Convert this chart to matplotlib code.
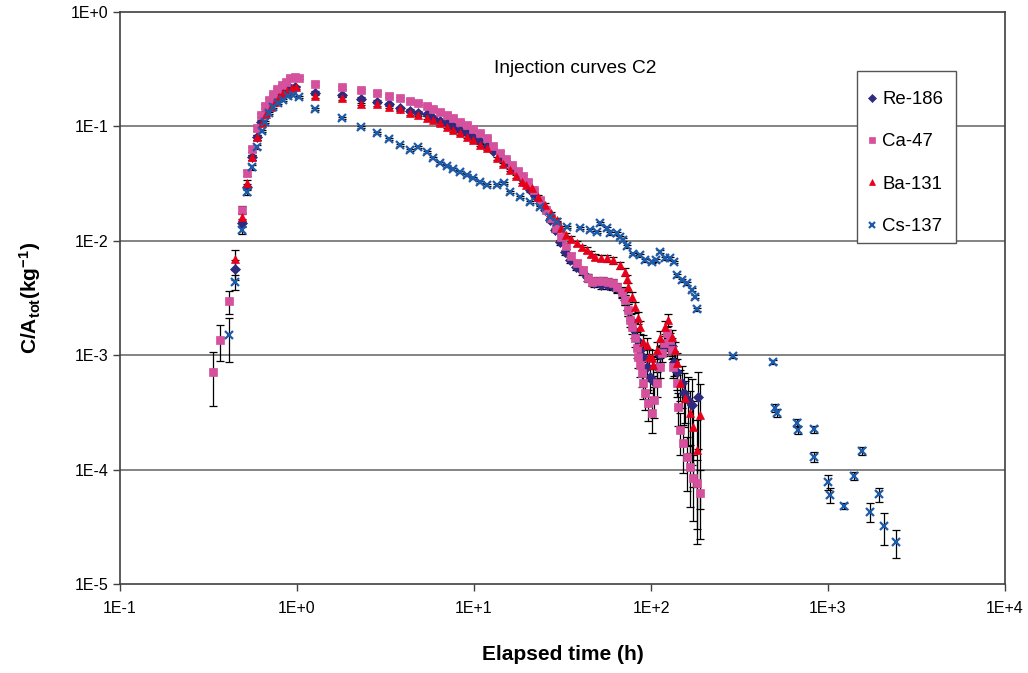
import matplotlib
matplotlib.use("Agg")
import matplotlib.pyplot as plt
from matplotlib.patches import Rectangle
from matplotlib.ticker import FixedLocator, FixedFormatter, NullLocator

plt.rcParams['font.family'] = ['Liberation Sans', 'DejaVu Sans']
plt.rcParams['mathtext.fontset'] = 'custom'
plt.rcParams['mathtext.rm'] = 'Liberation Sans:bold'
plt.rcParams['mathtext.it'] = 'Liberation Sans:bold'
plt.rcParams['mathtext.bf'] = 'Liberation Sans:bold'

# Re-186
re_t = [0.448, 0.487, 0.52, 0.555, 0.592, 0.626, 0.66, 0.699, 0.741, 0.781,
        0.823, 0.867, 0.912, 0.975, 1.26, 1.79, 2.30, 2.82, 3.32, 3.82,
        4.35, 4.84, 5.40, 5.89, 6.42, 7.04, 7.61, 8.33, 9.10, 9.91,
        10.8, 11.8, 12.8, 14.0, 15.2, 16.4, 17.7, 19.2, 20.7, 22.1,
        23.6, 25.2, 26.9, 28.7, 30.6, 32.7, 34.9, 37.7, 40.8, 43.5,
        47.6, 52.2, 56.4, 60.2, 64.3, 68.6, 71.3, 74.1, 77.1, 80.2,
        83.4, 86.7, 90.1, 94.9, 98.6, 103, 108, 112, 118, 125,
        131, 135, 140, 150, 153, 162, 171, 185]
re_c = [5.64e-3, 0.0143, 0.0295, 0.054, 0.0808, 0.109, 0.131, 0.151, 0.170, 0.184,
        0.196, 0.208, 0.217, 0.221, 0.196, 0.188, 0.174, 0.164, 0.156, 0.144,
        0.137, 0.132, 0.128, 0.119, 0.112, 0.106, 0.0998, 0.0930, 0.0876, 0.0808,
        0.0745, 0.0674, 0.0610, 0.054, 0.0489, 0.0433, 0.0384, 0.0333, 0.0278, 0.0246,
        0.0214, 0.0186, 0.0152, 0.0124, 9.76e-3, 7.98e-3, 6.79e-3, 5.90e-3, 5.45e-3, 4.83e-3,
        4.28e-3, 4.11e-3, 4.11e-3, 4.03e-3, 3.87e-3, 3.50e-3, 3.04e-3, 2.48e-3, 2.03e-3, 1.66e-3,
        1.36e-3, 1.11e-3, 9.64e-4, 7.88e-4, 6.45e-4, 5.95e-4, 7.88e-4, 1.00e-3, 1.16e-3, 1.23e-3,
        1.20e-3, 8.72e-4, 7.13e-4, 5.71e-4, 4.67e-4, 4.06e-4, 3.67e-4, 4.31e-4]
re_e = ([0.20, 0.08, 0.06, 0.05, 0.05, 0.04, 0.04, 0.04, 0.04, 0.04] + [0.03] * 30 +
        [0.03, 0.03, 0.04, 0.04, 0.05, 0.05, 0.06, 0.06, 0.07, 0.07,
         0.08, 0.08, 0.08, 0.08, 0.09, 0.10, 0.10, 0.12, 0.13, 0.15,
         0.17, 0.19, 0.21, 0.24, 0.27, 0.28, 0.22, 0.18, 0.16, 0.16,
         0.18, 0.25, 0.30, 0.40, 0.50, 0.60, 0.70, 0.65])

# Ca-47
ca_t = [0.335, 0.367, 0.413, 0.487, 0.52, 0.555, 0.592, 0.624, 0.66, 0.698,
        0.735, 0.774, 0.82, 0.867, 0.912, 0.975, 1.02, 1.26, 1.79, 2.30,
        2.82, 3.32, 3.82, 4.35, 4.84, 5.40, 5.89, 6.42, 7.01, 7.64,
        8.33, 9.10, 9.91, 10.8, 11.8, 12.8, 14.0, 15.2, 16.4, 17.7,
        18.9, 20.2, 21.8, 23.6, 25.5, 27.2, 29.1, 31.0, 33.1, 35.3,
        38.2, 41.3, 44.1, 46.4, 49.5, 53.6, 57.2, 61.0, 64.3, 68.6,
        71.3, 74.1, 76.1, 78.1, 81.2, 83.4, 84.5, 86.7, 88.9, 90.1,
        92.5, 96.1, 101, 104, 108, 112, 115, 118, 123, 128,
        131, 133, 140, 142, 146, 152, 160, 166, 173, 182,
        189]
ca_c = [7.13e-4, 1.36e-3, 2.98e-3, 0.0186, 0.0392, 0.0634, 0.0968, 0.126, 0.151, 0.170,
        0.192, 0.212, 0.230, 0.244, 0.265, 0.270, 0.265, 0.235, 0.221, 0.208,
        0.196, 0.186, 0.177, 0.168, 0.159, 0.151, 0.142, 0.134, 0.126, 0.118,
        0.110, 0.103, 0.0943, 0.0871, 0.0787, 0.0674, 0.0586, 0.0519, 0.046, 0.0408,
        0.0368, 0.0327, 0.0278, 0.0227, 0.0186, 0.0158, 0.0129, 0.0108, 9.0e-3, 7.36e-3,
        6.40e-3, 5.56e-3, 4.73e-3, 4.36e-3, 4.45e-3, 4.45e-3, 4.36e-3, 4.28e-3, 3.95e-3, 3.57e-3,
        3.04e-3, 2.48e-3, 2.03e-3, 1.77e-3, 1.41e-3, 1.16e-3, 9.64e-4, 8.21e-4, 6.99e-4, 5.71e-4,
        4.67e-4, 3.82e-4, 3.13e-4, 4.06e-4, 5.71e-4, 7.88e-4, 1.05e-3, 1.28e-3, 1.56e-3, 1.36e-3,
        1.11e-3, 7.88e-4, 5.71e-4, 3.52e-4, 2.22e-4, 1.71e-4, 1.29e-4, 1.05e-4, 8.45e-5, 7.64e-5,
        6.24e-5]
ca_e = ([0.50, 0.34, 0.23, 0.08, 0.06, 0.05, 0.05, 0.04, 0.04, 0.04] + [0.03] * 30 +
        [0.03, 0.03, 0.03, 0.04, 0.04, 0.04, 0.05, 0.05, 0.06, 0.06,
         0.07, 0.07, 0.08, 0.08, 0.08, 0.08, 0.08, 0.09, 0.09, 0.10,
         0.10, 0.12, 0.13, 0.14, 0.16, 0.18, 0.20, 0.22, 0.25, 0.27,
         0.29, 0.31, 0.33, 0.30, 0.25, 0.20, 0.17, 0.15, 0.14, 0.15,
         0.17, 0.20, 0.25, 0.32, 0.40, 0.45, 0.50, 0.55, 0.58, 0.60,
         0.60])

# Ba-131
ba_t = [0.446, 0.487, 0.52, 0.555, 0.592, 0.632, 0.668, 0.710, 0.751, 0.794,
        0.837, 0.882, 0.933, 0.987, 1.26, 1.79, 2.29, 2.82, 3.32, 3.82,
        4.35, 4.84, 5.40, 5.89, 6.42, 7.01, 7.64, 8.33, 9.10, 9.91,
        10.8, 11.8, 13.4, 14.6, 16.0, 17.3, 18.6, 19.7, 21.2, 23.1,
        25.2, 27.2, 29.3, 31.0, 33.1, 35.3, 38.0, 40.8, 43.4, 45.8,
        48.3, 52.2, 56.2, 61.2, 66.8, 71.3, 73.2, 74.4, 77.8, 81.2,
        84.8, 86.7, 90.4, 94.5, 97.4, 101, 103, 108, 112, 120,
        125, 131, 137, 140, 146, 156, 166, 173, 181, 189]
ba_c = [6.93e-3, 0.0161, 0.032, 0.054, 0.0808, 0.107, 0.128, 0.148, 0.163, 0.181,
        0.196, 0.204, 0.217, 0.221, 0.184, 0.177, 0.157, 0.156, 0.149, 0.141,
        0.130, 0.126, 0.119, 0.114, 0.106, 0.0994, 0.0930, 0.0871, 0.0813, 0.0760,
        0.0688, 0.0644, 0.0526, 0.0469, 0.0416, 0.0368, 0.0329, 0.0308, 0.0288, 0.0243,
        0.0206, 0.0175, 0.0152, 0.0129, 0.0112, 0.0104, 9.51e-3, 8.83e-3, 8.31e-3, 7.67e-3,
        7.26e-3, 7.13e-3, 7.03e-3, 6.79e-3, 6.14e-3, 5.34e-3, 4.63e-3, 3.95e-3, 3.23e-3, 2.64e-3,
        2.11e-3, 1.77e-3, 1.30e-3, 1.23e-3, 9.64e-4, 9.45e-4, 8.21e-4, 1.11e-3, 1.41e-3, 1.77e-3,
        2.03e-3, 1.44e-3, 1.11e-3, 8.55e-4, 5.71e-4, 4.22e-4, 3.13e-4, 2.36e-4, 1.48e-4, 3.00e-4]
ba_e = ([0.20, 0.08, 0.06, 0.05, 0.05, 0.04, 0.04, 0.04, 0.04, 0.04] + [0.03] * 30 +
        [0.03, 0.03, 0.04, 0.04, 0.04, 0.05, 0.05, 0.05, 0.06, 0.06,
         0.06, 0.06, 0.07, 0.07, 0.07, 0.08, 0.08, 0.09, 0.10, 0.11,
         0.12, 0.13, 0.15, 0.16, 0.18, 0.18, 0.20, 0.17, 0.15, 0.13,
         0.12, 0.15, 0.18, 0.22, 0.30, 0.40, 0.55, 0.70, 0.85, 0.85])

# Cs-137
cs_t = [0.413, 0.448, 0.487, 0.52, 0.555, 0.592, 0.632, 0.66, 0.698, 0.735,
        0.784, 0.837, 0.893, 0.953, 1.02, 1.26, 1.79, 2.29, 2.82, 3.32,
        3.82, 4.35, 4.84, 5.40, 5.89, 6.42, 7.01, 7.64, 8.33, 9.10,
        9.91, 10.8, 11.8, 13.4, 14.7, 16.0, 18.2, 20.7, 23.6, 26.9,
        29.3, 33.4, 39.7, 45.2, 49.3, 51.5, 56.2, 58.7, 64.0, 66.8,
        69.8, 72.9, 79.5, 86.7, 92.5, 101, 107, 112, 120, 128,
        134, 140, 149, 159, 170, 177, 181, 292, 487, 502,
        513, 665, 679, 833, 833, 1005, 1026, 1230, 1402, 1556,
        1727, 1941, 2061, 2430]
cs_c = [1.50e-3, 4.36e-3, 0.0124, 0.0267, 0.0442, 0.0661, 0.0912, 0.109, 0.131, 0.148,
        0.160, 0.170, 0.184, 0.188, 0.181, 0.142, 0.118, 0.0988, 0.0876, 0.0776,
        0.0688, 0.0622, 0.0661, 0.0598, 0.0529, 0.0479, 0.0451, 0.0424, 0.0399, 0.0376,
        0.0354, 0.0327, 0.0308, 0.0308, 0.0320, 0.0267, 0.0241, 0.0218, 0.0197, 0.0161,
        0.0146, 0.0132, 0.0129, 0.0124, 0.0120, 0.0142, 0.0129, 0.0117, 0.0117, 0.0108,
        0.0102, 9.0e-3, 7.67e-3, 7.51e-3, 6.79e-3, 6.57e-3, 6.79e-3, 8.03e-3, 7.07e-3, 7.07e-3,
        6.53e-3, 5.02e-3, 4.54e-3, 4.25e-3, 3.72e-3, 3.25e-3, 2.53e-3, 9.84e-4, 8.72e-4, 3.45e-4,
        3.13e-4, 2.55e-4, 2.22e-4, 2.26e-4, 1.29e-4, 7.79e-5, 6.0e-5, 4.81e-5, 8.79e-5, 1.45e-4,
        4.26e-5, 6.12e-5, 3.21e-5, 2.33e-5]
cs_e = ([0.42, 0.15, 0.08, 0.06, 0.05, 0.04] + [0.02] * 39 + [0.03] * 22 +
        [0.03, 0.04, 0.08, 0.08, 0.08, 0.08, 0.07, 0.10, 0.15, 0.15,
         0.06, 0.08, 0.08, 0.19, 0.14, 0.31, 0.28])

x_ticks = [0.1, 1, 10, 100, 1000, 10000]
x_labels = ["1E-1", "1E+0", "1E+1", "1E+2", "1E+3", "1E+4"]
y_ticks = [1e-5, 1e-4, 1e-3, 1e-2, 1e-1, 1]
y_labels = ["1E-5", "1E-4", "1E-3", "1E-2", "1E-1", "1E+0"]

series = [
    ("Re-186", re_t, re_c, re_e, "D", "#2D2A80", 4.8),
    ("Ca-47", ca_t, ca_c, ca_e, "s", "#D5509D", 5.2),
    ("Ba-131", ba_t, ba_c, ba_e, "^", "#E8001A", 6.0),
    ("Cs-137", cs_t, cs_c, cs_e, "x", "#1E5BA8", 5.8),
]

fig = plt.figure(figsize=(10.28, 6.73), dpi=100)
ax = fig.add_axes([0.1167, 0.1322, 0.861, 0.85])

ax.set_xscale("log")
ax.set_yscale("log")
ax.set_xlim(0.1, 1e4)
ax.set_ylim(1e-5, 1)

handles = []
for k, (lab, t, c, e, m, col, ms) in enumerate(series):
    err = [ci * ei for ci, ei in zip(c, e)]
    ax.errorbar(t, c, yerr=err, fmt="none", ecolor="black", elinewidth=0.9,
                capsize=3, capthick=0.9, zorder=2)
    h, = ax.plot(t, c, m, color=col, ms=ms, mew=1.6 if m == "x" else 0.5,
                 ls="none", label=lab, zorder=3 + 0.1 * k)
    handles.append(h)

ax.xaxis.set_major_locator(FixedLocator(x_ticks))
ax.xaxis.set_major_formatter(FixedFormatter(x_labels))
ax.yaxis.set_major_locator(FixedLocator(y_ticks))
ax.yaxis.set_major_formatter(FixedFormatter(y_labels))
ax.xaxis.set_minor_locator(NullLocator())
ax.yaxis.set_minor_locator(NullLocator())
ax.tick_params(labelsize=11.5, length=5, width=1, color="#404040")
ax.tick_params(axis="x", pad=7)

for yv in y_ticks[1:-1]:
    ax.axhline(yv, color="#6e6e6e", lw=1.2, zorder=1)
for s in ax.spines.values():
    s.set_color("#404040")
    s.set_linewidth(1.2)

ax.set_xlabel("Elapsed time (h)", fontsize=15, fontweight="bold", labelpad=21)
ax.set_ylabel(r"C/A$_{\mathrm{tot}}$(kg$^{\mathrm{-1}}$)", fontsize=15, fontweight="bold", labelpad=20)

ax.text(0.514, 0.902, "Injection curves C2", transform=ax.transAxes,
        ha="center", va="center", fontsize=13.8)

# legend box drawn by hand so the padding can differ in x and y
ax.add_patch(Rectangle((0.8328, 0.5962), 0.1119, 0.3007, transform=ax.transAxes,
                       facecolor="white", edgecolor="#555555", lw=1.0, zorder=5))
labels = [h.get_label() for h in handles]
leg = ax.legend(handles, labels, loc="upper left", bbox_to_anchor=(0.833, 0.8845),
                fontsize=13.4, frameon=False,
                labelspacing=1.36, handlelength=0.2, handletextpad=0.45,
                borderpad=0.7, markerscale=0.8, borderaxespad=0)
leg.set_zorder(6)

fig.savefig("out.png", dpi=100)
